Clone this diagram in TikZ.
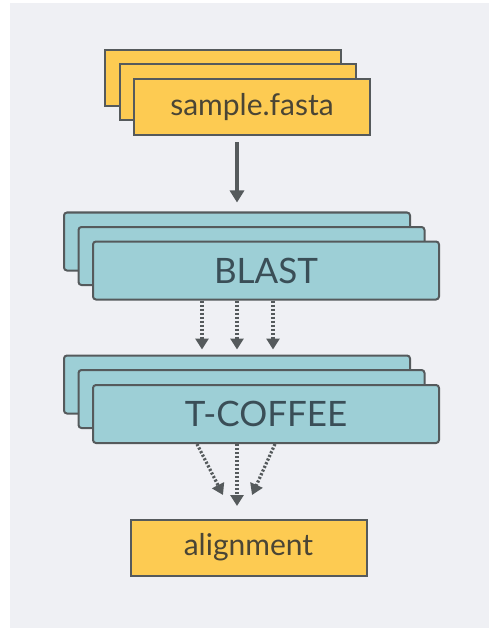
\documentclass[tikz,border=0pt]{standalone}
\usepackage{fontspec}
\setmainfont{Lato}
\usetikzlibrary{arrows.meta,calc}
\definecolor{panel}{HTML}{EFF0F4}
\definecolor{filebox}{HTML}{FDCB52}
\definecolor{toolbox}{HTML}{9DCFD6}
\definecolor{edge}{HTML}{555A5C}
\definecolor{filetext}{HTML}{4A4535}
\definecolor{tooltext}{HTML}{3A4E57}
\tikzset{
  filestyle/.style={draw=edge, line width=2pt, fill=filebox, inner sep=0pt,
    minimum width=236pt, minimum height=56pt, text=filetext,
    font=\fontsize{30}{34}\selectfont},
  toolstyle/.style={draw=edge, line width=2pt, fill=toolbox, inner sep=0pt,
    rounded corners=3pt, minimum width=346pt, minimum height=58pt, text=tooltext,
    font=\fontsize{35}{40}\selectfont},
  solidarrow/.style={draw=edge, line width=3.4pt,
    -{Triangle[length=12pt,width=14pt]}},
  dotarrow/.style={draw=edge, line width=3.2pt, dash pattern=on 2.2pt off 1.8pt,
    -{Triangle[length=11pt,width=13pt]}}
}
\begin{document}
\begin{tikzpicture}[x=1pt,y=-1pt]
  % canvas and grey panel
  \useasboundingbox (0,0) rectangle (489,628);
  \fill[white] (0,0) rectangle (489,628);
  \fill[panel] (10,3) rectangle (489,628);

  % input files
  \node[filestyle] (fastaA) at (223,78) {};
  \node[filestyle] (fastaB) at (237.5,92.5) {};
  \node[filestyle] (fastaC) at (252,107.5) {sample.fasta};

  % BLAST jobs
  \node[toolstyle] (blastA) at (237,241.5) {};
  \node[toolstyle] (blastB) at (251.5,256) {};
  \node[toolstyle] (blastC) at (266,270.5) {BLAST};

  % T-COFFEE jobs
  \node[toolstyle] (tcA) at (237,384.5) {};
  \node[toolstyle] (tcB) at (251.5,399) {};
  \node[toolstyle] (tcC) at (266,414) {T-COFFEE};

  % result
  \node[filestyle] (align) at (248.5,547.5) {alignment};

  % connectors
  \draw[solidarrow, shorten <=6pt, shorten >=9pt]
    (blastA.north |- fastaC.south) -- (blastA.north);

  \foreach \dx in {-35,0,36}{
    \draw[dotarrow, shorten >=5pt]
      ([xshift=\dx pt]tcA.north |- blastC.south) -- ([xshift=\dx pt]tcA.north);
  }

  \coordinate (tipL) at (223,495);
  \coordinate (tipM) at (237,506);
  \coordinate (tipR) at (252,495);
  \draw[dotarrow] ([xshift=-40pt]tcA.north |- tcC.south) -- (tipL);
  \draw[dotarrow] (tcA.north |- tcC.south) -- (tipM);
  \draw[dotarrow] ([xshift=38pt]tcA.north |- tcC.south) -- (tipR);
\end{tikzpicture}
\end{document}
